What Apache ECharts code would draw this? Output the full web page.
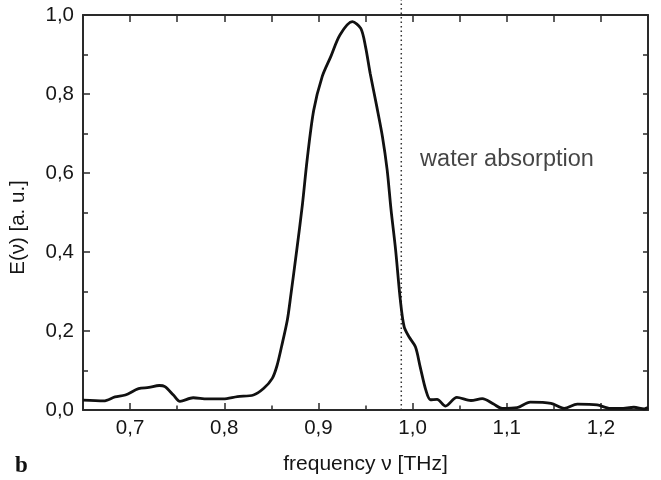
<!DOCTYPE html>
<html>
<head>
<meta charset="utf-8">
<script src="https://cdn.jsdelivr.net/npm/echarts@6/dist/echarts.min.js"></script>
<style>html,body{margin:0;padding:0;background:#fff}#c{width:661px;height:480px}</style>
</head>
<body>
<div id="c"></div>
<script>
// frequency (THz) and E(nu) [a.u.]
const freq = [0.650,0.672,0.684,0.695,0.709,0.720,0.731,0.737,0.746,0.753,0.767,0.782,0.799,0.814,0.831,0.842,0.851,0.856,0.861,0.867,0.870,0.877,0.883,0.888,0.895,0.904,0.913,0.923,0.936,0.945,0.950,0.955,0.962,0.968,0.973,0.977,0.982,0.987,0.991,0.996,1.003,1.008,1.014,1.019,1.026,1.035,1.047,1.062,1.074,1.086,1.095,1.111,1.125,1.147,1.161,1.175,1.196,1.210,1.221,1.235,1.246,1.250];
const amp  = [0.025,0.023,0.033,0.038,0.054,0.057,0.062,0.059,0.038,0.022,0.031,0.028,0.028,0.034,0.038,0.055,0.080,0.112,0.162,0.228,0.278,0.405,0.520,0.633,0.759,0.844,0.894,0.950,0.983,0.966,0.920,0.852,0.768,0.692,0.608,0.510,0.405,0.278,0.211,0.186,0.160,0.110,0.051,0.026,0.027,0.010,0.032,0.024,0.029,0.015,0.004,0.006,0.020,0.017,0.004,0.015,0.013,0.004,0.004,0.007,0.003,0.006];
const xMajor = [0.7,0.8,0.9,1.0,1.1,1.2];
const xMinor = [0.75,0.85,0.95,1.05,1.15];
const xTop = [0.7,0.75,0.8,0.85,0.9,0.95,1.0,1.05,1.1,1.15,1.2];
const waterLine = [[0.988,0],[0.988,1.04]];
const annotation = [[1.008,0.633]];
const annotationText = 'water absorption';

const fmt = v => Number(v).toFixed(1).replace('.', ',');
const FONT = 'Liberation Sans';
const AX = '#2a2a2a';
const TXT = '#151515';

const chart = echarts.init(document.getElementById('c'), null, {renderer:'canvas'});
const base = {min:0.65, max:1.25, type:'value', splitLine:{show:false}};
chart.setOption({
  animation:false,
  backgroundColor:'#fff',
  grid:{left:83, right:13, top:15, bottom:70, containLabel:false},
  xAxis:[
    Object.assign({}, base, {position:'bottom',
      name:'frequency \u03bd [THz]', nameLocation:'middle', nameGap:44,
      nameTextStyle:{fontFamily:FONT, fontSize:21, color:TXT},
      axisLine:{show:true, onZero:false, lineStyle:{color:AX, width:2}},
      axisTick:{show:true, inside:true, length:7, customValues:xMajor, lineStyle:{color:AX, width:1.5}},
      axisLabel:{show:true, customValues:xMajor, formatter:fmt, margin:8, fontFamily:FONT, fontSize:20.5, color:TXT}}),
    Object.assign({}, base, {position:'bottom',
      axisLine:{show:false},
      axisTick:{show:true, inside:true, length:4.5, customValues:xMinor, lineStyle:{color:AX, width:1.5}},
      axisLabel:{show:false}}),
    Object.assign({}, base, {position:'top',
      axisLine:{show:true, onZero:false, lineStyle:{color:AX, width:2}},
      axisTick:{show:true, inside:true, length:7, customValues:xTop, lineStyle:{color:AX, width:1.5}},
      axisLabel:{show:false}})
  ],
  yAxis:[
    {type:'value', min:0, max:1, interval:0.2, position:'left',
      name:'E(\u03bd) [a. u.]', nameLocation:'middle', nameGap:54,
      nameTextStyle:{fontFamily:FONT, fontSize:20.5, color:TXT, padding:[0,30,0,0]},
      splitLine:{show:false},
      axisLine:{show:true, onZero:false, lineStyle:{color:AX, width:2}},
      axisTick:{show:true, inside:true, length:7, lineStyle:{color:AX, width:1.5}},
      minorTick:{show:true, splitNumber:2, length:5, lineStyle:{color:AX, width:1.5}},
      axisLabel:{formatter:fmt, margin:9, fontFamily:FONT, fontSize:20.5, color:TXT}},
    {type:'value', min:0, max:1, interval:0.1, position:'right',
      splitLine:{show:false},
      axisLine:{show:true, onZero:false, lineStyle:{color:AX, width:2}},
      axisTick:{show:true, inside:true, length:5, lineStyle:{color:AX, width:1.5}},
      axisLabel:{show:false}}
  ],
  series:[
    {type:'line', xAxisIndex:0, yAxisIndex:0, clip:false, silent:true,
      data: waterLine, symbol:'none',
      lineStyle:{color:'#333', width:1.5, type:[1.5,3]}},
    {type:'line', xAxisIndex:0, yAxisIndex:0, smooth:0.3, symbol:'none',
      data: freq.map((f,i)=>[f, amp[i]]),
      lineStyle:{color:'#111', width:2.8}},
    {type:'scatter', xAxisIndex:0, yAxisIndex:0, symbolSize:0, silent:true,
      data: annotation,
      label:{show:true, position:'right', distance:0, formatter:annotationText,
        fontFamily:FONT, fontSize:23.5, color:TXT}}
  ],
  graphic:[
    {type:'text', left:15, top:455, style:{text:'b', font:'bold 23px "Liberation Serif"', fill:'#111'}}
  ]
});
</script>
</body>
</html>
